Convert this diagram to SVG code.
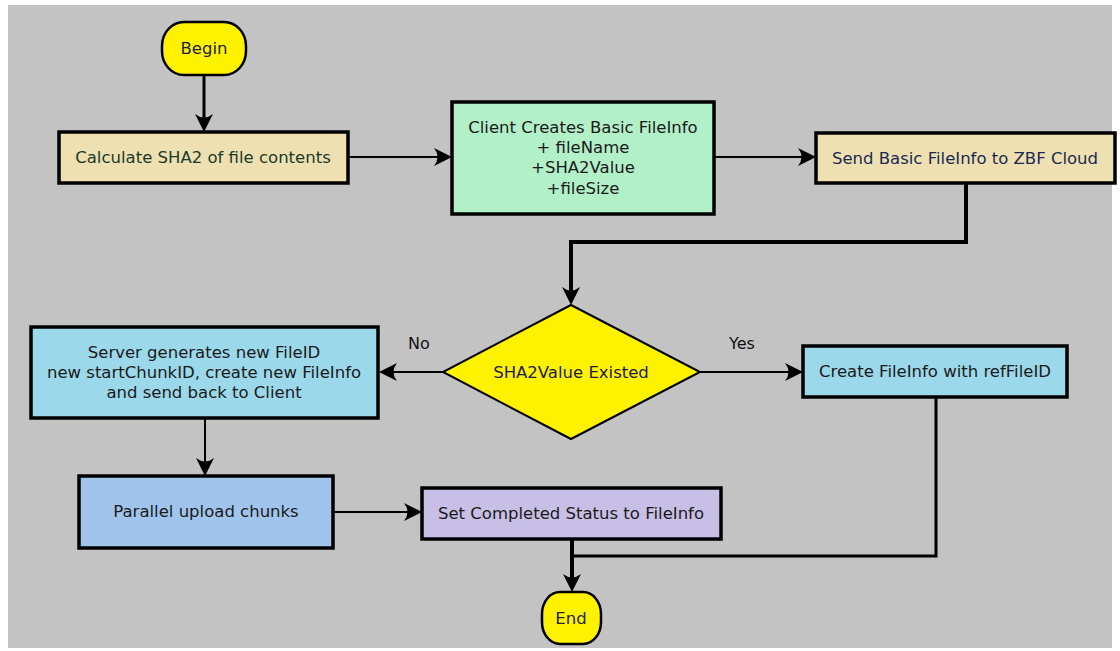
<svg xmlns="http://www.w3.org/2000/svg" width="1120" height="651" viewBox="0 0 1120 651">
<style>
.box{stroke:#000;stroke-width:3.5}
.term{fill:#fff200;stroke:#000;stroke-width:2.5}
.t{font-family:"DejaVu Sans",sans-serif;font-size:16.5px;text-anchor:middle;dominant-baseline:central}
.lbl{font-family:"DejaVu Sans",sans-serif;font-size:16px;text-anchor:middle;dominant-baseline:central;fill:#111}
.c{fill:none;stroke:#000}
</style>
<defs>
<marker id="ah" markerUnits="userSpaceOnUse" viewBox="-20 -10 20 20" markerWidth="20" markerHeight="20" refX="-6" refY="0" orient="auto">
<path d="M0,0 L-18,-9 Q-11,0 -18,9 Z" fill="#000"/>
</marker>
</defs>
<rect x="0" y="0" width="1120" height="651" fill="#ffffff"/>
<rect x="8" y="5" width="1104" height="643" fill="#c3c3c3"/>

<g id="connectors">
<path class="c" stroke-width="3" d="M204,75 V126" marker-end="url(#ah)"/>
<path class="c" stroke-width="2" d="M348,157 H446" marker-end="url(#ah)"/>
<path class="c" stroke-width="2" d="M714,157 H810" marker-end="url(#ah)"/>
<path class="c" stroke-width="4" d="M966,183 V242 H571 V299" marker-end="url(#ah)"/>
<path class="c" stroke-width="2" d="M443,372 H385" marker-end="url(#ah)"/>
<path class="c" stroke-width="2" d="M700,372 H797" marker-end="url(#ah)"/>
<path class="c" stroke-width="2" d="M205,418 V470" marker-end="url(#ah)"/>
<path class="c" stroke-width="2" d="M333,512 H416" marker-end="url(#ah)"/>
<path class="c" stroke-width="4" d="M572,539 V586" marker-end="url(#ah)"/>
<path class="c" stroke-width="3" d="M936,397 V556 H572"/>
<text class="lbl" x="419" y="343">No</text>
<text class="lbl" x="742" y="343">Yes</text>
</g>

<g id="begin">
<rect class="term" x="162" y="22" width="84" height="53" rx="22" ry="24"/>
<text class="t" x="204" y="48" fill="#222244">Begin</text>
</g>

<g id="calc">
<rect class="box" x="59" y="132" width="289" height="51" fill="#eee0b0"/>
<text class="t" x="203" y="157" fill="#1a3a2c">Calculate SHA2 of file contents</text>
</g>

<g id="client">
<rect class="box" x="452" y="102" width="262" height="112" fill="#b2f0c8"/>
<text class="t" x="583" y="127" fill="#1a1a1a">Client Creates Basic FileInfo</text>
<text class="t" x="583" y="147" fill="#1a1a1a">+ fileName</text>
<text class="t" x="583" y="167" fill="#1a1a1a">+SHA2Value</text>
<text class="t" x="583" y="188" fill="#1a1a1a">+fileSize</text>
</g>

<g id="send">
<rect class="box" x="816" y="133" width="299" height="50" fill="#eee0b0"/>
<text class="t" x="965" y="158" fill="#1a2a55">Send Basic FileInfo to ZBF Cloud</text>
</g>

<g id="decision">
<polygon points="571,305 700,372 571,439 443,372" fill="#fff200" stroke="#000" stroke-width="2"/>
<text class="t" x="571" y="372" fill="#1a2050">SHA2Value Existed</text>
</g>

<g id="server">
<rect class="box" x="31" y="327" width="347" height="91" fill="#9ad8ea"/>
<text class="t" x="204" y="352" fill="#1a1a1a">Server generates new FileID</text>
<text class="t" x="204" y="372" fill="#1a1a1a">new startChunkID, create new FileInfo</text>
<text class="t" x="204" y="392" fill="#1a1a1a">and send back to Client</text>
</g>

<g id="create">
<rect class="box" x="803" y="346" width="264" height="51" fill="#9ad8ea"/>
<text class="t" x="935" y="371" fill="#1a1a1a">Create FileInfo with refFileID</text>
</g>

<g id="parallel">
<rect class="box" x="79" y="476" width="254" height="72" fill="#a0c4ec"/>
<text class="t" x="206" y="511" fill="#1a1a1a">Parallel upload chunks</text>
</g>

<g id="setstatus">
<rect class="box" x="422" y="488" width="299" height="51" fill="#c8bfe6"/>
<text class="t" x="571" y="513" fill="#1a1a1a">Set Completed Status to FileInfo</text>
</g>

<g id="end">
<rect class="term" x="542" y="592" width="59" height="52" rx="18" ry="22"/>
<text class="t" x="571" y="618" fill="#222244">End</text>
</g>
</svg>
